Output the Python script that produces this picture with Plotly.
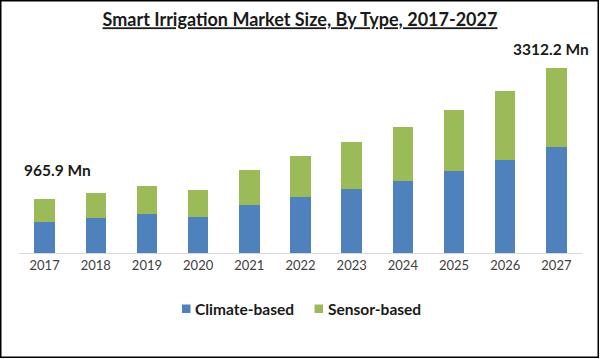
import plotly.graph_objects as go

years = ["2017", "2018", "2019", "2020", "2021", "2022", "2023", "2024", "2025", "2026", "2027"]
climate = [554, 620, 691, 638, 858, 1001, 1149, 1292, 1465, 1656, 1889]
totals = [965.9, 1067, 1192, 1120, 1483, 1726, 1983, 2244, 2548, 2900, 3312.2]
sensor = [round(t - c, 1) for t, c in zip(totals, climate)]

series_names = ["Climate-based", "Sensor-based"]
title_text = "Smart Irrigation Market Size, By Type, 2017-2027"
first_label = "965.9 Mn"
last_label = "3312.2 Mn"

BLUE = "#4F81BD"
GREEN = "#9BBB59"
FONT = "Lato"

fig = go.Figure()
fig.add_trace(go.Bar(x=years, y=climate, name=series_names[0], marker_color=BLUE,
                     marker_line_width=0, width=0.4))
fig.add_trace(go.Bar(x=years, y=sensor, name=series_names[1], marker_color=GREEN,
                     marker_line_width=0, width=0.4))

W, H = 600, 359
ml, mr, mt, mb = 19, 18, 60, 106
pw, ph = W - ml - mr, H - mt - mb
ymax = ph * 17.87

def px_x(p):
    return (p - ml) / pw

def px_y(p):
    return (H - mb - p) / ph

TXT = "#1a1a1a"

annotations = [
    dict(text="<b>" + first_label + "</b>", xref="paper", yref="paper",
         x=px_x(22), y=px_y(169.5), xanchor="left", yanchor="middle", showarrow=False,
         font=dict(size=15.5, color=TXT, family=FONT)),
    dict(text="<b>" + last_label + "</b>", xref="paper", yref="paper",
         x=px_x(591), y=px_y(49), xanchor="right", yanchor="middle", showarrow=False,
         font=dict(size=15.5, color=TXT, family=FONT)),
]
shapes = [
    dict(type="rect", xref="paper", yref="paper",
         x0=px_x(0.75), x1=px_x(W - 1.75), y0=px_y(H - 1.75), y1=px_y(0.75),
         line=dict(color="#000000", width=1.5), fillcolor="rgba(0,0,0,0)", layer="above"),
]

# custom legend
legend_items = [(series_names[0], BLUE, 182, 193), (series_names[1], GREEN, 314.5, 326)]
for name, col, sx, tx in legend_items:
    shapes.append(dict(type="rect", xref="paper", yref="paper",
                       x0=px_x(sx), x1=px_x(sx + 8.5), y0=px_y(313), y1=px_y(304.5),
                       line=dict(width=0), fillcolor=col, layer="above"))
    annotations.append(dict(text="<b>" + name + "</b>", xref="paper", yref="paper",
                            x=px_x(tx), y=px_y(308.5), xanchor="left", yanchor="middle",
                            showarrow=False, font=dict(size=15.5, color=TXT, family=FONT)))

fig.update_layout(
    width=W, height=H,
    margin=dict(l=ml, r=mr, t=mt, b=mb),
    barmode="stack",
    bargap=0.6,
    plot_bgcolor="white",
    paper_bgcolor="white",
    font=dict(family=FONT, color="#262626"),
    title=dict(text="<b><u>" + title_text + "</u></b>", x=0.5, xanchor="center",
               y=1 - 20 / H, yanchor="middle", font=dict(size=18, color=TXT, family=FONT)),
    xaxis=dict(showgrid=False, showline=True, linecolor="#d9d9d9", linewidth=1,
               ticks="", tickfont=dict(size=13, color="#404040", family=FONT)),
    yaxis=dict(visible=False, range=[0, ymax]),
    showlegend=False,
    annotations=annotations,
    shapes=shapes,
)

fig.write_html(
    "out.html",
    config={"displayModeBar": False},
    post_script="document.body.style.margin='0';document.body.style.overflow='hidden';",
)
